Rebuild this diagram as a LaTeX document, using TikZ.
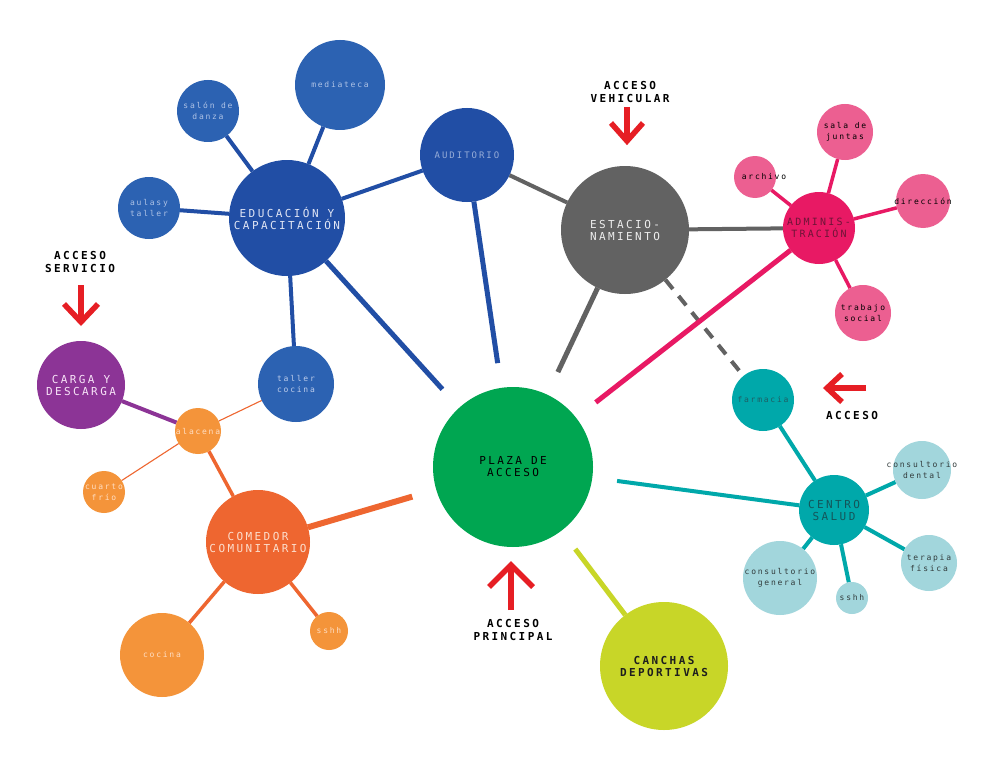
\documentclass[tikz,border=0pt]{standalone}
\usepackage{fontspec}
\newfontfamily\bigf[LetterSpace=22]{DejaVu Sans Mono}
\newfontfamily\smallf[LetterSpace=22]{DejaVu Sans Mono}
\pgfdeclarelayer{bg}
\pgfsetlayers{bg,main}
\definecolor{cBlueD}{RGB}{33,78,165}
\definecolor{cBlue}{RGB}{44,98,178}
\definecolor{cGray}{RGB}{98,98,98}
\definecolor{cPink}{RGB}{232,25,100}
\definecolor{cPinkL}{RGB}{236,95,145}
\definecolor{cTeal}{RGB}{0,168,170}
\definecolor{cTealL}{RGB}{162,214,220}
\definecolor{cGreen}{RGB}{0,166,81}
\definecolor{cLime}{RGB}{200,214,40}
\definecolor{cOrD}{RGB}{238,102,48}
\definecolor{cOrL}{RGB}{244,148,58}
\definecolor{cPurple}{RGB}{140,52,150}
\definecolor{cRed}{RGB}{230,30,36}
\begin{document}
\begin{tikzpicture}[x=1pt,y=-1pt,
  bub/.style={circle,inner sep=0pt,outer sep=0pt,draw=none},
  big/.style={font=\bigf\fontsize{11}{12}\selectfont,align=center,inner sep=0pt},
  mid/.style={font=\bigf\fontsize{10}{11.5}\selectfont,align=center,inner sep=0pt},
  aud/.style={font=\bigf\fontsize{9}{11}\selectfont,align=center,inner sep=0pt},
  small/.style={font=\smallf\fontsize{8}{10.5}\selectfont,align=center,inner sep=0pt},
  acc/.style={font=\bigf\bfseries\fontsize{11}{13}\selectfont,align=center,inner sep=0pt},
  accarrow/.style={draw=cRed,line width=5.5pt,miter limit=10},
  wide/.style={line width=5pt},
  spoke/.style={line width=4pt},
  thin/.style={line width=1.1pt},
  toplaza/.style={shorten >=25pt}
]
\begin{pgfonlayer}{bg}
\fill[white] (0,0) rectangle (985,765);
\end{pgfonlayer}
\useasboundingbox (0,0) rectangle (985,765);

% ---- circles ----
\node[bub,fill=cBlueD,minimum size=116pt] (edu) at (287,218) {};
\node[bub,fill=cBlue,minimum size=90pt] (med) at (340,85) {};
\node[bub,fill=cBlue,minimum size=62pt] (salon) at (208,111) {};
\node[bub,fill=cBlue,minimum size=62pt] (aulas) at (149,208) {};
\node[bub,fill=cBlueD,minimum size=94pt] (aud) at (467,155) {};
\node[bub,fill=cBlue,minimum size=76pt] (taller) at (296,384) {};
\node[bub,fill=cGray,minimum size=128pt] (est) at (625,230) {};
\node[bub,fill=cPink,minimum size=72pt] (adm) at (819,228) {};
\node[bub,fill=cPinkL,minimum size=42pt] (arch) at (755,177) {};
\node[bub,fill=cPinkL,minimum size=56pt] (sala) at (845,132) {};
\node[bub,fill=cPinkL,minimum size=54pt] (dir) at (923,201) {};
\node[bub,fill=cPinkL,minimum size=56pt] (trab) at (863,313) {};
\node[bub,fill=cTeal,minimum size=62pt] (farm) at (763,400) {};
\node[bub,fill=cTeal,minimum size=70pt] (salud) at (834,510) {};
\node[bub,fill=cTealL,minimum size=58pt] (dental) at (922,470) {};
\node[bub,fill=cTealL,minimum size=56pt] (terapia) at (929,563) {};
\node[bub,fill=cTealL,minimum size=32pt] (sshhB) at (852,598) {};
\node[bub,fill=cTealL,minimum size=74pt] (general) at (780,578) {};
\node[bub,fill=cGreen,minimum size=160pt] (plaza) at (513,467) {};
\node[bub,fill=cLime,minimum size=128pt] (canchas) at (664,666) {};
\node[bub,fill=cOrD,minimum size=104pt] (comedor) at (258,542) {};
\node[bub,fill=cOrL,minimum size=84pt] (cocina) at (162,655) {};
\node[bub,fill=cOrL,minimum size=38pt] (sshhA) at (329,631) {};
\node[bub,fill=cOrL,minimum size=46pt] (alac) at (198,431) {};
\node[bub,fill=cOrL,minimum size=42pt] (cuarto) at (104,492) {};
\node[bub,fill=cPurple,minimum size=88pt] (carga) at (81,385) {};

% ---- connectors ----
\begin{pgfonlayer}{bg}
\draw[cBlueD,spoke] (edu) -- (med);
\draw[cBlueD,spoke] (edu) -- (salon);
\draw[cBlueD,spoke] (edu) -- (aulas);
\draw[cBlueD,spoke] (edu) -- (aud);
\draw[cBlueD,spoke] (edu) -- (taller);
\draw[cBlueD,wide,toplaza] (edu) -- (plaza);
\draw[cBlueD,wide,toplaza] (aud) -- (plaza);
\draw[cGray,spoke] (aud) -- (est);
\draw[cGray,spoke] (est) -- (adm);
\draw[cGray,wide,toplaza] (est) -- (plaza);
\draw[cGray,spoke,dash pattern=on 12pt off 9pt] (est) -- (farm);
\draw[cPink,line width=3.5pt] (adm) -- (arch);
\draw[cPink,line width=3.5pt] (adm) -- (sala);
\draw[cPink,line width=3.5pt] (adm) -- (dir);
\draw[cPink,line width=3.5pt] (adm) -- (trab);
\draw[cPink,wide,toplaza] (adm) -- (plaza);
\draw[cTeal,spoke] (farm) -- (salud);
\draw[cTeal,spoke] (salud) -- (dental);
\draw[cTeal,spoke] (salud) -- (terapia);
\draw[cTeal,spoke] (salud) -- (sshhB);
\draw[cTeal,spoke] (salud) -- (general);
\draw[cTeal,spoke,toplaza] (salud) -- (plaza);
\draw[cLime,wide,shorten <=23pt] (plaza) -- (canchas);
\draw[cOrD,line width=6pt,toplaza] (comedor) -- (plaza);
\draw[cOrD,line width=3.5pt] (comedor) -- (cocina);
\draw[cOrD,line width=3.5pt] (comedor) -- (sshhA);
\draw[cOrD,line width=3.5pt] (alac) -- (comedor);
\draw[cOrD,thin] (alac) -- (taller);
\draw[cOrD,thin] (alac) -- (cuarto);
\draw[cPurple,spoke] (carga) -- (alac);
\end{pgfonlayer}

% ---- circle texts ----
\node[big,text={rgb,255:red,225;green,230;blue,245}] (eduT) at (edu) {EDUCACIÓN Y\\CAPACITACIÓN};
\node[small,text={rgb,255:red,175;green,195;blue,230}] (medT) at (med) {mediateca};
\node[small,text={rgb,255:red,175;green,195;blue,230}] (salonT) at (salon) {salón de\\danza};
\node[small,text={rgb,255:red,175;green,195;blue,230}] (aulasT) at (aulas) {aulasy\\taller};
\node[aud,text={rgb,255:red,150;green,172;blue,215}] (audT) at (aud) {AUDITORIO};
\node[small,text={rgb,255:red,190;green,205;blue,235}] (tallerT) at (taller) {taller\\cocina};
\node[big,text={rgb,255:red,238;green,238;blue,238}] (estT) at (est) {ESTACIO-\\NAMIENTO};
\node[mid,text={rgb,255:red,110;green,20;blue,55}] (admT) at (adm) {ADMINIS-\\TRACIÓN};
\node[small,text=black] (archT) at ([xshift=9pt]arch.center) {archivo};
\node[small,text=black] (salaT) at (sala) {sala de\\juntas};
\node[small,text=black] (dirT) at (dir) {dirección};
\node[small,text=black] (trabT) at (trab) {trabajo\\social};
\node[small,text={rgb,255:red,30;green,95;blue,100}] (farmT) at (farm) {farmacia};
\node[big,text={rgb,255:red,20;green,85;blue,90}] (saludT) at (salud) {CENTRO\\SALUD};
\node[small,text={rgb,255:red,50;green,60;blue,60}] (dentalT) at (dental) {consultorio\\dental};
\node[small,text={rgb,255:red,50;green,60;blue,60}] (terapiaT) at (terapia) {terapia\\física};
\node[small,text={rgb,255:red,50;green,60;blue,60}] (sshhBT) at (sshhB) {sshh};
\node[small,text={rgb,255:red,50;green,60;blue,60}] (generalT) at (general) {consultorio\\general};
\node[big,text=black] (plazaT) at (plaza) {PLAZA DE\\ACCESO};
\node[big,font=\bigf\bfseries\fontsize{11}{12}\selectfont,text={rgb,255:red,30;green,30;blue,30}] (canchasT) at (canchas) {CANCHAS\\DEPORTIVAS};
\node[big,text={rgb,255:red,252;green,222;blue,205}] (comedorT) at (comedor) {COMEDOR\\COMUNITARIO};
\node[small,text={rgb,255:red,255;green,222;blue,195}] (cocinaT) at (cocina) {cocina};
\node[small,text={rgb,255:red,255;green,222;blue,195}] (sshhAT) at (sshhA) {sshh};
\node[small,text={rgb,255:red,255;green,222;blue,195}] (alacT) at (alac) {alacena};
\node[small,text={rgb,255:red,255;green,222;blue,195}] (cuartoT) at (cuarto) {cuarto\\frío};
\node[big,text={rgb,255:red,248;green,228;blue,248}] (cargaT) at (carga) {CARGA Y\\DESCARGA};

% ---- access labels and arrows ----
\node[acc] (accV) at (630,92) {ACCESO\\VEHICULAR};
\coordinate (vA) at (627,107);
\coordinate (vB) at (627,141);
\draw[accarrow] (vA) -- (vB);
\draw[accarrow] ([xshift=-16pt,yshift=18pt]vB) -- (vB) -- ([xshift=16pt,yshift=18pt]vB);

\node[acc] (accS) at (80,262) {ACCESO\\SERVICIO};
\coordinate (sA) at (81,285);
\coordinate (sB) at (81,322);
\draw[accarrow] (sA) -- (sB);
\draw[accarrow] ([xshift=-17pt,yshift=18pt]sB) -- (sB) -- ([xshift=17pt,yshift=18pt]sB);

\node[acc] (accP) at (513,630) {ACCESO\\PRINCIPAL};
\coordinate (pA) at (511,610);
\coordinate (pB) at (511,565);
\draw[accarrow] (pA) -- (pB);
\draw[accarrow] ([xshift=-22pt,yshift=-22pt]pB) -- (pB) -- ([xshift=22pt,yshift=-22pt]pB);

\node[acc] (accH) at (852,415) {ACCESO};
\coordinate (hA) at (866,388);
\coordinate (hB) at (827,388);
\draw[accarrow] (hA) -- (hB);
\draw[accarrow] ([xshift=15pt,yshift=-14pt]hB) -- (hB) -- ([xshift=15pt,yshift=14pt]hB);
\end{tikzpicture}
\end{document}
